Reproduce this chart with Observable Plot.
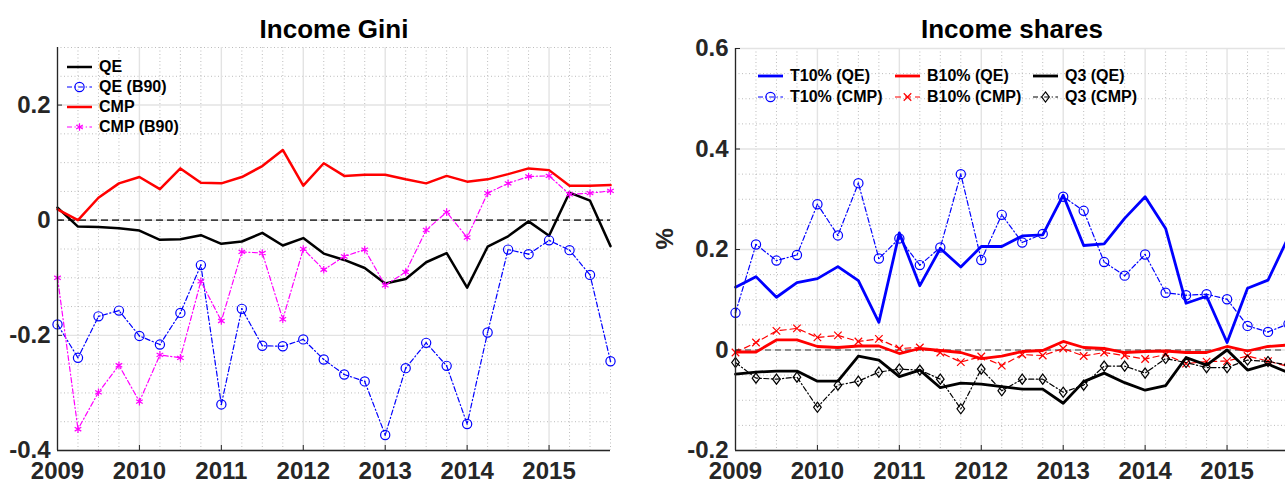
<!DOCTYPE html>
<html><head><meta charset="utf-8">
<script src="https://cdn.jsdelivr.net/npm/d3@7"></script>
<script src="https://cdn.jsdelivr.net/npm/@observablehq/plot@0.6"></script>
<style>
body{margin:0;background:#fff;font-family:"Liberation Sans",Arial,Helvetica,sans-serif;}
#wrap{position:relative;width:1285px;height:483px;overflow:hidden;}
.panel{position:absolute;top:0;}
.lg{position:absolute;display:flex;align-items:center;height:20px;font-weight:bold;font-size:16px;color:#000;white-space:nowrap;}
.lg svg{margin-right:7px;}
</style></head>
<body><div id="wrap"></div>
<script>
// ---- data ----
const quarters = [2009, 2009.25, 2009.5, 2009.75, 2010, 2010.25, 2010.5, 2010.75,
  2011, 2011.25, 2011.5, 2011.75, 2012, 2012.25, 2012.5, 2012.75,
  2013, 2013.25, 2013.5, 2013.75, 2014, 2014.25, 2014.5, 2014.75,
  2015, 2015.25, 2015.5, 2015.75];
const years = [2009, 2010, 2011, 2012, 2013, 2014, 2015];

// Income Gini
const giniQE = [0.022, -0.011, -0.012, -0.014, -0.018, -0.034, -0.033, -0.026, -0.041, -0.037, -0.022, -0.044, -0.031, -0.058, -0.069, -0.083, -0.110, -0.102, -0.073, -0.057, -0.117, -0.046, -0.028, -0.002, -0.027, 0.048, 0.034, -0.045];
const giniQEB90 = [-0.181, -0.239, -0.167, -0.157, -0.201, -0.216, -0.161, -0.078, -0.320, -0.154, -0.218, -0.219, -0.207, -0.242, -0.268, -0.280, -0.373, -0.257, -0.213, -0.253, -0.354, -0.195, -0.051, -0.059, -0.035, -0.052, -0.095, -0.245];
const giniCMP = [0.019, 0.000, 0.039, 0.064, 0.075, 0.054, 0.090, 0.065, 0.064, 0.075, 0.094, 0.122, 0.060, 0.099, 0.077, 0.079, 0.079, 0.071, 0.064, 0.077, 0.067, 0.071, 0.080, 0.090, 0.087, 0.060, 0.060, 0.061];
const giniCMPB90 = [-0.100, -0.363, -0.299, -0.252, -0.315, -0.234, -0.239, -0.106, -0.175, -0.055, -0.057, -0.172, -0.050, -0.086, -0.063, -0.051, -0.113, -0.090, -0.017, 0.014, -0.030, 0.047, 0.064, 0.076, 0.077, 0.045, 0.047, 0.051];
const giniNames = ["QE", "QE (B90)", "CMP", "CMP (B90)"];
const giniYTicks = [-0.4, -0.2, 0, 0.2];
const giniYMinor = [-0.35, -0.3, -0.25, -0.15, -0.1, -0.05, 0.05, 0.1, 0.15, 0.25, 0.3];

// Income shares
const t10QE = [0.125, 0.146, 0.105, 0.134, 0.142, 0.166, 0.138, 0.055, 0.233, 0.128, 0.202, 0.165, 0.206, 0.206, 0.227, 0.229, 0.308, 0.208, 0.211, 0.262, 0.305, 0.242, 0.093, 0.107, 0.015, 0.123, 0.139, 0.225];
const t10CMP = [0.074, 0.210, 0.178, 0.189, 0.290, 0.228, 0.332, 0.182, 0.222, 0.169, 0.204, 0.350, 0.179, 0.269, 0.214, 0.231, 0.305, 0.277, 0.175, 0.148, 0.190, 0.114, 0.109, 0.111, 0.101, 0.048, 0.036, 0.052];
const b10QE = [-0.004, -0.004, 0.020, 0.020, 0.007, 0.005, 0.008, 0.008, -0.007, 0.003, -0.001, -0.005, -0.017, -0.012, -0.003, -0.001, 0.017, 0.005, 0.003, -0.005, -0.003, -0.002, -0.005, -0.005, 0.007, -0.002, 0.007, 0.010];
const b10CMP = [-0.005, 0.015, 0.038, 0.043, 0.025, 0.029, 0.017, 0.022, 0.003, 0.005, -0.005, -0.024, -0.013, -0.031, -0.009, -0.011, 0.003, -0.012, -0.005, -0.011, -0.018, -0.009, -0.027, -0.023, -0.022, -0.012, -0.022, -0.033];
const q3QE = [-0.048, -0.044, -0.042, -0.042, -0.062, -0.062, -0.012, -0.020, -0.053, -0.040, -0.075, -0.066, -0.068, -0.073, -0.078, -0.078, -0.106, -0.063, -0.046, -0.065, -0.080, -0.071, -0.015, -0.030, 0.000, -0.040, -0.028, -0.045];
const q3CMP = [-0.025, -0.056, -0.058, -0.054, -0.114, -0.070, -0.062, -0.044, -0.038, -0.040, -0.058, -0.117, -0.038, -0.081, -0.058, -0.058, -0.084, -0.070, -0.032, -0.032, -0.046, -0.017, -0.025, -0.035, -0.035, -0.020, -0.023, -0.030];
const shareNames = ["T10% (QE)", "T10% (CMP)", "B10% (QE)", "B10% (CMP)", "Q3 (QE)", "Q3 (CMP)"];
const shareYTicks = [-0.2, 0, 0.2, 0.4, 0.6];
const shareYMinor = [-0.15, -0.1, -0.05, 0.05, 0.1, 0.15, 0.25, 0.3, 0.35, 0.45, 0.5, 0.55];

// ---- styling ----
const H = 483;
const DASHDOT = "5,2.5,1.2,2.5";
const diamondSym = {draw(ctx, size) {
  const h = Math.sqrt(size) * 0.62, w = h * 0.75;
  ctx.moveTo(0, -h); ctx.lineTo(w, 0); ctx.lineTo(0, h); ctx.lineTo(-w, 0); ctx.closePath();
}};

const giniSeries = [
  {name: giniNames[0], values: giniQE, color: "#000", width: 2.5},
  {name: giniNames[1], values: giniQEB90, color: "#0000ff", width: 1.2, dash: DASHDOT, symbol: "circle", r: 4.6, center: true},
  {name: giniNames[2], values: giniCMP, color: "#ff0000", width: 2.5},
  {name: giniNames[3], values: giniCMPB90, color: "#ff00ff", width: 1.2, dash: DASHDOT, symbol: "asterisk", r: 3.6}
];
const shareSeries = [
  {name: shareNames[0], values: t10QE, color: "#0000ff", width: 2.8},
  {name: shareNames[1], values: t10CMP, color: "#0000ff", width: 1.2, dash: DASHDOT, symbol: "circle", r: 4.6, center: true},
  {name: shareNames[2], values: b10QE, color: "#ff0000", width: 2.8},
  {name: shareNames[3], values: b10CMP, color: "#ff0000", width: 1.2, dash: "6,4", symbol: "times", r: 3.5},
  {name: shareNames[4], values: q3QE, color: "#000", width: 2.8},
  {name: shareNames[5], values: q3CMP, color: "#000", width: 1.2, dash: DASHDOT, symbol: diamondSym, r: 4.6}
];

function makePanel(o) {
  const plotW = o.width - o.mL - o.mR, plotH = H - o.mT - o.mB;
  const marks = [
    Plot.ruleX(quarters.filter(q => !years.includes(q)), {stroke: "#bcbcbc", strokeDasharray: "1,2.5", strokeWidth: 1}),
    Plot.ruleY(o.yMinor, {stroke: "#bcbcbc", strokeDasharray: "1,2.5", strokeWidth: 1}),
    Plot.ruleX(years, {stroke: "#e3e3e3", strokeWidth: 1.4}),
    Plot.ruleY(o.yTicks, {stroke: "#e3e3e3", strokeWidth: 1.4}),
    Plot.ruleY([0], {stroke: o.zeroColor, strokeDasharray: o.zeroDash, strokeWidth: o.zeroWidth})
  ];
  for (const s of o.series) {
    const data = quarters.map((t, i) => ({t, v: s.values[i]}));
    marks.push(Plot.line(data, {x: "t", y: "v", stroke: s.color, strokeWidth: s.width, strokeDasharray: s.dash}));
    if (s.symbol) marks.push(Plot.dot(data, {x: "t", y: "v", symbol: s.symbol, r: s.r, stroke: s.color, fill: "none", strokeWidth: 1.2}));
    if (s.center) marks.push(Plot.dot(data, {x: "t", y: "v", r: 0.8, fill: s.color, stroke: "none"}));
  }
  marks.push(
    Plot.ruleX([quarters[0]], {stroke: "#262626", strokeWidth: 1.3}),
    Plot.ruleY([o.yDomain[0]], {stroke: "#262626", strokeWidth: 1.3}),
    Plot.ruleX(years, {stroke: "#262626", strokeWidth: 1, insetTop: plotH - 5}),
    Plot.ruleY(o.yTicks, {stroke: "#262626", strokeWidth: 1, insetRight: plotW - 5}),
    Plot.axisX({ticks: years, label: null, tickSize: 0, tickPadding: 11, tickFormat: d => String(d), fontSize: 24, fontWeight: "bold", fill: "#262626"}),
    Plot.axisY({ticks: o.yTicks, label: null, tickSize: 0, tickPadding: 7, tickFormat: d => String(d), fontSize: 24, fontWeight: "bold", fill: "#262626"}),
    Plot.text([o.title], {frameAnchor: "top", lineAnchor: "bottom", dy: 37 - o.mT, fontSize: 26, fontWeight: "bold", fill: "#000"})
  );
  if (o.ylabel) marks.push(Plot.text([o.ylabel], {frameAnchor: "left", dx: -70, rotate: -90, fontSize: 24, fontWeight: "bold", fill: "#262626"}));
  const svg = Plot.plot({
    width: o.width, height: H,
    marginLeft: o.mL, marginRight: o.mR, marginTop: o.mT, marginBottom: o.mB,
    x: {domain: [quarters[0], quarters[quarters.length - 1]], label: null},
    y: {domain: o.yDomain, label: null},
    style: {fontFamily: '"Liberation Sans", Arial, Helvetica, sans-serif', background: "transparent", overflow: "visible"},
    marks
  });
  svg.classList.add("panel");
  svg.style.left = o.left + "px";
  return svg;
}

function swatch(s) {
  const ns = "http://www.w3.org/2000/svg";
  const svg = document.createElementNS(ns, "svg");
  svg.setAttribute("width", 25); svg.setAttribute("height", 20);
  const line = document.createElementNS(ns, "line");
  line.setAttribute("x1", 0); line.setAttribute("x2", 25); line.setAttribute("y1", 10); line.setAttribute("y2", 10);
  line.setAttribute("stroke", s.color); line.setAttribute("stroke-width", s.width);
  if (s.dash) line.setAttribute("stroke-dasharray", s.dash);
  svg.appendChild(line);
  if (s.symbol) {
    const type = s.symbol === "circle" ? d3.symbolCircle : s.symbol === "times" ? d3.symbolTimes : s.symbol === "asterisk" ? d3.symbolAsterisk : s.symbol;
    const p = document.createElementNS(ns, "path");
    p.setAttribute("d", d3.symbol(type, Math.PI * s.r * s.r)());
    p.setAttribute("transform", "translate(12.5,10)");
    p.setAttribute("fill", "none"); p.setAttribute("stroke", s.color); p.setAttribute("stroke-width", 1.2);
    svg.appendChild(p);
  }
  return svg;
}
function legendItem(s, x, yc) {
  const d = document.createElement("div");
  d.className = "lg";
  d.style.left = x + "px"; d.style.top = (yc - 10) + "px";
  d.appendChild(swatch(s));
  const sp = document.createElement("span"); sp.textContent = s.name; d.appendChild(sp);
  return d;
}

const wrap = document.getElementById("wrap");
wrap.appendChild(makePanel({
  left: 0, width: 640, mL: 57, mR: 30, mT: 47, mB: 33,
  yDomain: [-0.4, 0.3], yTicks: giniYTicks, yMinor: giniYMinor,
  title: "Income Gini", series: giniSeries,
  zeroColor: "#404040", zeroDash: "7,4", zeroWidth: 1.8
}));
wrap.appendChild(makePanel({
  left: 640, width: 660, mL: 95, mR: 12, mT: 48, mB: 33,
  yDomain: [-0.2, 0.6], yTicks: shareYTicks, yMinor: shareYMinor,
  title: "Income shares", series: shareSeries, ylabel: "%",
  zeroColor: "#333", zeroDash: "6,4", zeroWidth: 1.2
}));
// legends
giniSeries.forEach((s, i) => wrap.appendChild(legendItem(s, 67, 66.5 + i * 20)));
const colX = [758, 895, 1033];
shareSeries.forEach((s, i) => wrap.appendChild(legendItem(s, colX[Math.floor(i / 2)], 75.7 + (i % 2) * 21)));
</script>
</body></html>
